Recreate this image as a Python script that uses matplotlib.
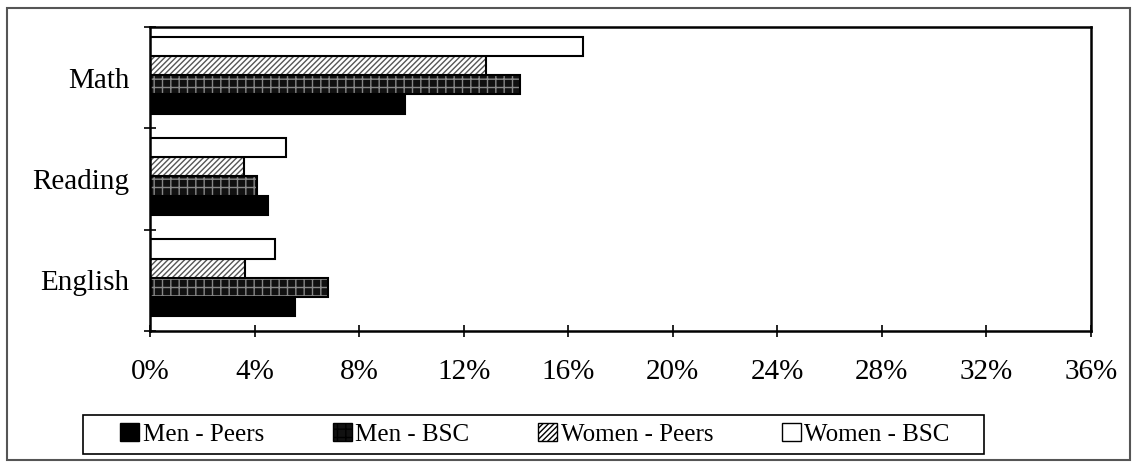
import matplotlib
matplotlib.use("Agg")
import matplotlib.pyplot as plt
import numpy as np
from matplotlib.patches import Rectangle, Patch

plt.rcParams['font.family'] = ['Liberation Serif', 'DejaVu Serif']
plt.rcParams['hatch.linewidth'] = 1.0

categories = ["English", "Reading", "Math"]
series_names = ["Men - Peers", "Men - BSC", "Women - Peers", "Women - BSC"]
men_peers = [5.55, 4.5, 9.75]
men_bsc = [6.8, 4.1, 14.15]
women_peers = [3.65, 3.6, 12.85]
women_bsc = [4.8, 5.2, 16.55]
xticks = [0, 4, 8, 12, 16, 20, 24, 28, 32, 36]
xticklabels = ["0%", "4%", "8%", "12%", "16%", "20%", "24%", "28%", "32%", "36%"]

series = [men_peers, men_bsc, women_peers, women_bsc]
styles = [
    dict(facecolor="black", edgecolor="black", hatch=None),
    dict(facecolor="#111111", edgecolor="#888888", hatch="++"),
    dict(facecolor="white", edgecolor="#555555", hatch="//////"),
    dict(facecolor="white", edgecolor="black", hatch=None),
]

W, H = 1137, 463
fig = plt.figure(figsize=(W/100, H/100), dpi=100)
ax = fig.add_axes([150/W, 1-331/H, (1091-150)/W, (331-27)/H])

y = np.arange(len(categories))
h = 0.19
shift = 0.025
offsets = [-1.5*h, -0.5*h, 0.5*h, 1.5*h]
handles = []
for vals, st, off, name in zip(series, styles, offsets, series_names):
    ax.barh(y + off + shift, vals, height=h, facecolor=st["facecolor"],
            edgecolor=st["edgecolor"], hatch=st["hatch"], linewidth=0)
    ax.barh(y + off + shift, vals, height=h, facecolor="none", edgecolor="black", linewidth=1.5)
    handles.append(Patch(facecolor=st["facecolor"], hatch=st["hatch"],
                         edgecolor="black", linewidth=1.0))

ax.set_xlim(0, 36)
ax.set_ylim(-0.5, 2.5)
ax.set_xticks(xticks)
ax.set_xticklabels(xticklabels, fontsize=21)
ax.set_yticks([-0.5, 0.5, 1.5, 2.5])
ax.set_yticklabels([])
ax.set_yticks(y, minor=True)
ax.set_yticklabels(categories, minor=True, fontsize=21)
ax.tick_params(axis='y', which='minor', length=0, pad=15)
ax.tick_params(axis='y', which='major', direction='inout', length=9, width=1.2)
ax.tick_params(axis='x', direction='inout', length=8, width=1.2, pad=16, top=False)
for s in ax.spines.values():
    s.set_linewidth(1.8)

leg = fig.legend(handles=handles, labels=series_names, loc='center',
                 bbox_to_anchor=(535/W, 1-434.5/H),
                 ncol=4, fontsize=18, frameon=False,
                 handlelength=0.75, handleheight=0.75, handletextpad=0.15,
                 columnspacing=2.75, borderpad=0.35, borderaxespad=0)

fig.patches.append(Rectangle((83/W, 1-454/H), (984-83)/W, 39/H,
                             transform=fig.transFigure, fill=False,
                             edgecolor='black', linewidth=1.2))
fig.patches.append(Rectangle((7/W, 1-460/H), 1123/W, 452/H,
                             transform=fig.transFigure, fill=False,
                             edgecolor='#555555', linewidth=1.5))

fig.savefig("out.png", dpi=100)
